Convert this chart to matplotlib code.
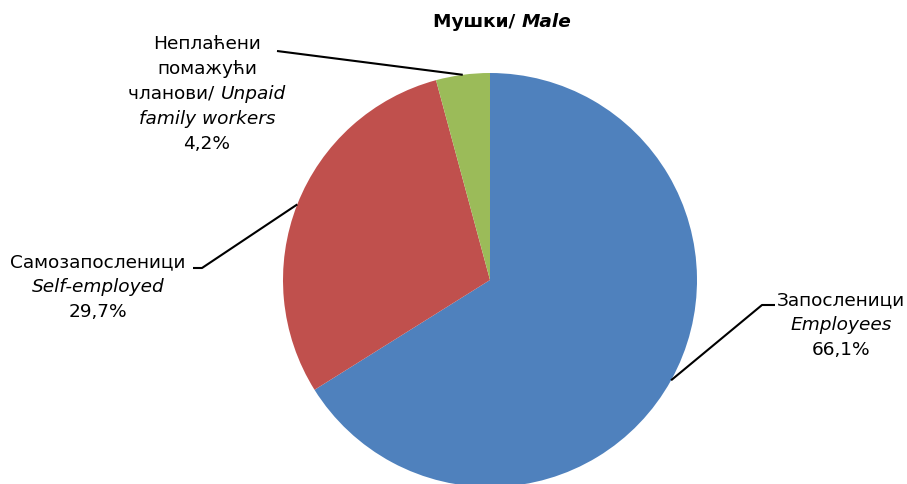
import matplotlib
matplotlib.use("Agg")
import matplotlib.pyplot as plt
import numpy as np

categories_sr = ["Запосленици", "Самозапосленици", "Неплаћени помажући чланови"]
categories_en = ["Employees", "Self-employed", "Unpaid family workers"]
values = [66.1, 29.7, 4.2]
value_labels = ["66,1%", "29,7%", "4,2%"]
colors = ["#4F81BD", "#C0504D", "#9BBB59"]
title_sr = "Мушки/ "
title_en = "Male"

W, H = 907, 484
fig = plt.figure(figsize=(W / 100, H / 100), dpi=100)
ax = fig.add_axes([0, 0, 1, 1])
ax.set_xlim(0, W)
ax.set_ylim(0, H)
ax.axis("off")

cx, cy, r = 490, H - 280, 207
wedges, _ = ax.pie(values, colors=colors, startangle=90, counterclock=False,
                   center=(cx, cy), radius=r, frame=True,
                   wedgeprops=dict(linewidth=0))
ax.set_xlim(0, W)
ax.set_ylim(0, H)
ax.set_aspect("equal")
ax.axis("off")

FS = 13.3
LS = 25
renderer = fig.canvas.get_renderer()


def draw_line(x, y, segments):
    """segments: list of (text, style). Centered at x."""
    arts = []
    for txt, style in segments:
        t = ax.text(0, y, txt, fontsize=FS, fontstyle=style, va="center",
                    ha="left", color="black", family="DejaVu Sans")
        arts.append(t)
    widths = [a.get_window_extent(renderer).width for a in arts]
    total = sum(widths)
    pos = x - total / 2
    for a, w in zip(arts, widths):
        a.set_x(pos)
        pos += w


def draw_block(x, y_center, lines):
    n = len(lines)
    top = y_center + (n - 1) * LS / 2
    for i, segs in enumerate(lines):
        draw_line(x, top - i * LS, segs)


blocks = [
    [[(categories_sr[0], "normal")], [(categories_en[0], "italic")], [(value_labels[0], "normal")]],
    [[(categories_sr[1], "normal")], [(categories_en[1], "italic")], [(value_labels[1], "normal")]],
    [[("Неплаћени", "normal")], [("помажући", "normal")],
     [("чланови/ ", "normal"), ("Unpaid", "italic")],
     [("family workers", "italic")], [(value_labels[2], "normal")]],
]
block_pos = [(841, H - 325), (98, H - 287), (207, H - 94)]
leaders = [((762, 305), (775, 305)), ((202, 268), (193, 268)), ((277, 51), (277, 51))]

cum = 0
for i, v in enumerate(values):
    mid = 90 - (cum + v / 2) / 100 * 360
    cum += v
    px = cx + r * np.cos(np.radians(mid))
    py = cy + r * np.sin(np.radians(mid))
    (ex, ey), (fx, fy) = leaders[i]
    ax.plot([px, ex, fx], [py, H - ey, H - fy], color="black", lw=1.5,
            solid_capstyle="butt")
    draw_block(block_pos[i][0], block_pos[i][1], blocks[i])

t1 = ax.text(0, H - 22, title_sr, fontsize=FS, fontweight="bold", va="center",
             ha="left", family="DejaVu Sans")
t2 = ax.text(0, H - 22, title_en, fontsize=FS, fontweight="bold", fontstyle="italic",
             va="center", ha="left", family="DejaVu Sans")
w1 = t1.get_window_extent(renderer).width
w2 = t2.get_window_extent(renderer).width
x0 = 502 - (w1 + w2) / 2
t1.set_x(x0)
t2.set_x(x0 + w1)

fig.savefig("out.png", dpi=100)
